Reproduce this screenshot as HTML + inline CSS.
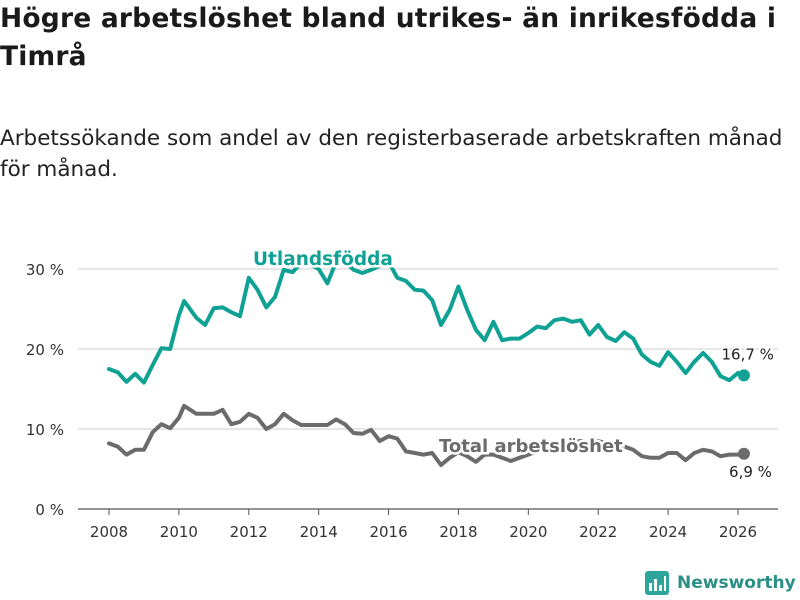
<!DOCTYPE html>
<html><head><meta charset="utf-8">
<style>
body{margin:0;width:800px;height:600px;background:#fff;font-family:"DejaVu Sans","Liberation Sans",sans-serif;overflow:hidden;position:relative}
#title{position:absolute;left:0;top:0px;width:820px;font-size:26.5px;font-weight:bold;line-height:38px;color:#1a1a1a;white-space:nowrap;letter-spacing:0.2px}
#sub{position:absolute;left:0;top:123px;width:820px;font-size:21.5px;line-height:31px;color:#222;white-space:nowrap}
svg{position:absolute;left:0;top:0}
</style></head><body>
<div id="title">Högre arbetslöshet bland utrikes- än inrikesfödda i<br>Timrå</div>
<div id="sub">Arbetssökande som andel av den registerbaserade arbetskraften månad<br>för månad.</div>
<svg id="chart" width="800" height="600"></svg>
<script>
const years=[2008,2008.25,2008.5,2008.75,2009,2009.25,2009.5,2009.75,2010,2010.15,2010.5,2010.75,2011,2011.25,2011.5,2011.75,2012,2012.25,2012.5,2012.75,2013,2013.25,2013.5,2013.75,2014,2014.25,2014.5,2014.75,2015,2015.25,2015.5,2015.75,2016,2016.25,2016.5,2016.75,2017,2017.25,2017.5,2017.75,2018,2018.25,2018.5,2018.75,2019,2019.25,2019.5,2019.75,2020,2020.25,2020.5,2020.75,2021,2021.25,2021.5,2021.75,2022,2022.25,2022.5,2022.75,2023,2023.25,2023.5,2023.75,2024,2024.25,2024.5,2024.75,2025,2025.25,2025.5,2025.75,2026,2026.17];
const foreign=[17.5,17.1,15.9,16.9,15.8,18,20.1,20,24.2,26,23.9,23,25.1,25.2,24.6,24.1,28.9,27.4,25.2,26.5,29.9,29.6,30.7,30.6,30,28.2,30.9,30.9,29.9,29.5,29.9,30.4,30.9,28.9,28.5,27.4,27.3,26.1,23,24.9,27.8,24.9,22.4,21.1,23.4,21.1,21.3,21.3,22,22.8,22.6,23.6,23.8,23.4,23.6,21.8,23,21.5,21,22.1,21.3,19.3,18.4,17.9,19.6,18.4,17,18.4,19.5,18.4,16.6,16.1,17,16.7];
const total=[8.2,7.8,6.8,7.4,7.4,9.6,10.6,10.1,11.4,12.9,11.9,11.9,11.9,12.4,10.6,10.9,11.9,11.4,10,10.6,11.9,11.1,10.5,10.5,10.5,10.5,11.2,10.6,9.5,9.4,9.9,8.5,9.1,8.8,7.2,7,6.8,7,5.5,6.4,7.1,6.6,5.9,6.8,6.8,6.4,6,6.4,6.8,7.2,7.6,8,8.3,8.4,8.5,8.3,8.5,8.2,8,7.8,7.4,6.6,6.4,6.4,7,7,6.1,7,7.4,7.2,6.6,6.8,6.8,6.9];
const yTicks=[0,10,20,30];
const xTicks=[2008,2010,2012,2014,2016,2018,2020,2022,2024,2026];
const X=v=>109+(v-2008)*(738-109)/18;
const Y=v=>509-v*8;
const NS="http://www.w3.org/2000/svg";
const svg=document.getElementById('chart');
function mk(t,a,p){const e=document.createElementNS(NS,t);for(const k in a)e.setAttribute(k,a[k]);(p||svg).appendChild(e);return e;}
yTicks.forEach(t=>{
 const l=mk('line',{x1:78,x2:778,y1:Y(t),y2:Y(t),stroke:t===0?'#555':'#ddd','stroke-width':t===0?1.2:1.5});
 
 
 const tx=mk('text',{x:64,y:Y(t)+6,'text-anchor':'end','font-size':15,fill:'#333'});
 tx.textContent=t+' %';
 
 
});
xTicks.forEach(t=>{
 const l=mk('line',{x1:X(t),x2:X(t),y1:509,y2:515,stroke:'#555'});
 
 
 const tx=mk('text',{x:X(t),y:537,'text-anchor':'middle','font-size':15,fill:'#333'});
 tx.textContent=t;
 
 
});
function line(data,color,name){
 const d=data.map((v,i)=>(i?'L':'M')+X(years[i]).toFixed(1)+','+Y(v).toFixed(1)).join('');
 const p=mk('path',{d:d,fill:'none',stroke:color,'stroke-width':4,'stroke-linejoin':'round','stroke-linecap':'round'});
 
 
 const n=data.length-1;
 const c=mk('circle',{cx:X(years[n]),cy:Y(data[n]),r:6,fill:color});
 
 
}
line(total,'#6b6b6b','total');
line(foreign,'#0fa294','foreign-born');
function lab(x,y,txt,col,size,bold,name,anchor){
 const t=mk('text',{x:x,y:y,'font-size':size,'font-weight':bold?'bold':'normal',fill:col,stroke:'#fff','stroke-width':bold?5:4,'paint-order':'stroke','text-anchor':anchor||'start'});
 t.textContent=txt;
 
 
}
lab(253,265,'Utlandsfödda','#0fa294',18.5,true,'foreign-born-label');
lab(439,452,'Total arbetslöshet','#6b6b6b',18,true,'total-label');
const nf=foreign.length-1;
lab(X(years[nf])+30,Y(foreign[nf])-16,String(foreign[nf]).replace('.',',')+' %','#222',15,false,'foreign-born-value-label','end');
lab(X(years[nf])+28,Y(total[nf])+23,String(total[nf]).replace('.',',')+' %','#222',15,false,'total-value-label','end');
</script>
<div style="position:absolute;left:645px;top:570px;height:26px;display:flex;align-items:center">
<svg width="24" height="24" style="position:static"><rect x="0" y="0" width="24" height="24" rx="3" fill="#2ea59a"/><rect x="4" y="12" width="3" height="8" fill="#fff"/><rect x="9" y="8" width="3" height="12" fill="#fff"/><rect x="14" y="14" width="3" height="6" fill="#fff"/><rect x="19" y="5" width="2" height="15" fill="#fff"/></svg>
<span style="margin-left:8px;font-size:17px;font-weight:bold;color:#2a8f86">Newsworthy</span>
</div>
</body></html>
